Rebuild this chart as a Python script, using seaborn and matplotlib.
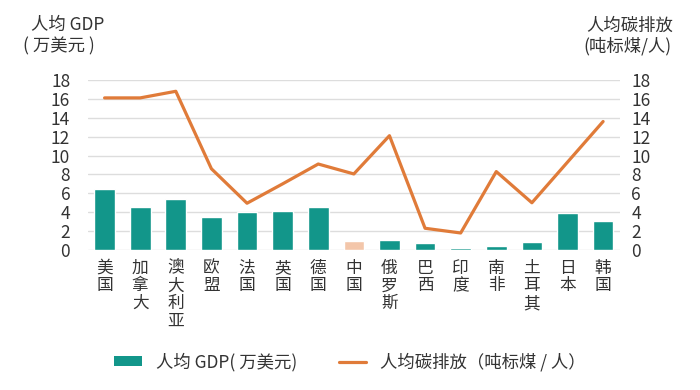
import numpy as np
import pandas as pd
import matplotlib.pyplot as plt
import seaborn as sns
from matplotlib.lines import Line2D
from matplotlib.patches import Patch

# 数据
countries = ['美国', '加拿大', '澳大利亚', '欧盟', '法国', '英国', '德国', '中国',
             '俄罗斯', '巴西', '印度', '南非', '土耳其', '日本', '韩国']
gdp = [6.5, 4.55, 5.4, 3.5, 4.0, 4.15, 4.55, 0.9, 1.05, 0.78, 0.2, 0.46, 0.82, 3.9, 3.1]
carbon = [16.1, 16.1, 16.8, 8.6, 4.95, 7.0, 9.1, 8.05, 12.1, 2.3, 1.8, 8.3, 5.0, 9.3, 13.6]
yticks = list(range(0, 19, 2))

teal = '#12968a'
orange = '#e07b39'
peach = '#f3c6aa'
txt = '#333333'

sns.set_style('white')
plt.rcParams['font.family'] = ['Noto Sans CJK SC', 'DejaVu Sans']

df = pd.DataFrame({'country': countries, 'gdp': gdp, 'carbon': carbon})
df['pos'] = np.arange(len(df))
bar_colors = [peach if c == '中国' else teal for c in countries]

fig = plt.figure(figsize=(7, 3.9), dpi=100)
ax = fig.add_axes([0.126, 0.359, 0.76, 0.436])

sns.barplot(data=df, x='country', y='gdp', hue='country', palette=bar_colors,
            width=0.58, saturation=1, legend=False, ax=ax, zorder=2)
sns.lineplot(data=df, x='pos', y='carbon', color=orange, linewidth=2.3, ax=ax, zorder=3)

ax.set_ylim(0, 18)
ax.set_xlim(-0.46, 14.48)
ax.set_yticks(yticks)
ax.yaxis.grid(True, color='#dddddd', linewidth=1, zorder=0)
ax.set_axisbelow(True)
for s in ax.spines.values():
    s.set_visible(False)
ax.set_xlabel('')
ax.set_ylabel('')
ax.set_xticks(df['pos'])
ax.set_xticklabels(['\n'.join(c) for c in countries], fontsize=12,
                   color=txt, linespacing=1.05, va='top')
ax.tick_params(axis='x', length=0, pad=7)
ax.tick_params(axis='y', length=0, pad=13, labelsize=12.5, labelcolor=txt)

# 右轴
ax2 = ax.twinx()
ax2.set_ylim(0, 18)
ax2.set_yticks(yticks)
for s in ax2.spines.values():
    s.set_visible(False)
ax2.tick_params(axis='y', length=0, pad=8, labelsize=12.5, labelcolor=txt)

# 轴标题
fig.text(0.044, 0.935, '人均 GDP', fontsize=12.5, color=txt, va='center')
fig.text(0.033, 0.882, '( 万美元 )', fontsize=12.5, color=txt, va='center')
fig.text(0.838, 0.935, '人均碳排放', fontsize=12.5, color=txt, va='center')
fig.text(0.834, 0.882, '(吨标煤/人)', fontsize=12.5, color=txt, va='center')

# 图例
handles = [Patch(facecolor=teal, edgecolor='none'),
           Line2D([0], [0], color=orange, linewidth=2.3)]
fig.legend(handles, ['人均 GDP( 万美元)', '人均碳排放（吨标煤 / 人）'],
           loc='center', bbox_to_anchor=(0.5, 0.072), ncol=2, frameon=False,
           fontsize=12.5, handlelength=1.6, handleheight=0.45, handletextpad=0.8,
           columnspacing=2.4, labelcolor=txt)

fig.savefig('out.png', dpi=100)
